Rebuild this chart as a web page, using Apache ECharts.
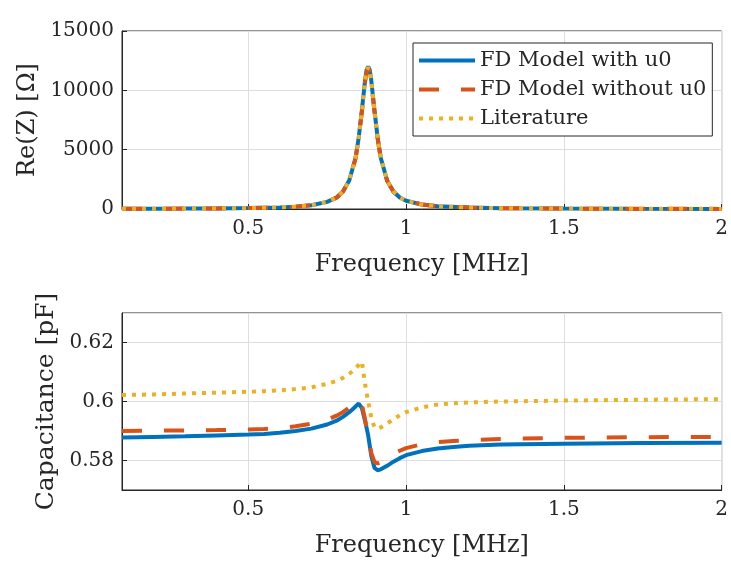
<!DOCTYPE html>
<html>
<head>
<meta charset="utf-8">
<script src="https://cdn.jsdelivr.net/npm/echarts@6/dist/echarts.min.js"></script>
<style>
  html, body { margin: 0; padding: 0; background: #fff; }
  #main { width: 731px; height: 561px; }
</style>
</head>
<body>
<div id="main"></div>
<script>
// top panel: Re(Z) in ohm vs frequency in MHz
var freqTop = [0.1, 0.2, 0.3, 0.4, 0.5, 0.6, 0.65, 0.7, 0.75, 0.78, 0.8, 0.82, 0.84, 0.85, 0.86, 0.87, 0.875, 0.88, 0.885, 0.89, 0.9, 0.91, 0.92, 0.94, 0.96, 0.98, 1.0, 1.05, 1.1, 1.2, 1.3, 1.5, 1.7, 2.0];
var reWith    = [20, 25, 35, 50, 75, 135, 200, 320, 600, 970, 1480, 2400, 4300, 6000, 8300, 10800, 11700, 12000, 11700, 10800, 8300, 6000, 4300, 2400, 1480, 970, 700, 380, 240, 120, 70, 35, 20, 10];
var reWithout = [20, 25, 35, 50, 75, 135, 200, 320, 600, 960, 1460, 2380, 4250, 5950, 8200, 10700, 11550, 11850, 11550, 10700, 8200, 5950, 4250, 2380, 1460, 960, 690, 375, 235, 118, 68, 34, 20, 10];
var reLit     = [20, 25, 35, 50, 75, 135, 200, 320, 600, 965, 1470, 2390, 4280, 5980, 8250, 10750, 11650, 11950, 11650, 10750, 8250, 5980, 4280, 2390, 1470, 965, 695, 378, 238, 119, 69, 35, 20, 10];

// bottom panel: capacitance in pF vs frequency in MHz
var freqBot = [0.1, 0.2, 0.3, 0.4, 0.5, 0.55, 0.6, 0.65, 0.7, 0.75, 0.78, 0.8, 0.82, 0.83, 0.84, 0.85, 0.86, 0.87, 0.88, 0.89, 0.9, 0.91, 0.92, 0.94, 0.96, 0.98, 1.0, 1.05, 1.1, 1.15, 1.2, 1.3, 1.5, 1.75, 2.0];
var capWith    = [0.5878, 0.5880, 0.5882, 0.5885, 0.5888, 0.5890, 0.5894, 0.5900, 0.5908, 0.5922, 0.5935, 0.5948, 0.5964, 0.5973, 0.5983, 0.5993, 0.5978, 0.5935, 0.5885, 0.5815, 0.5775, 0.5767, 0.5770, 0.5782, 0.5796, 0.5808, 0.5818, 0.5832, 0.5841, 0.5846, 0.5850, 0.5854, 0.5857, 0.5859, 0.5860];
var capWithout = [0.5900, 0.5901, 0.5902, 0.5903, 0.5905, 0.5907, 0.5910, 0.5916, 0.5925, 0.5938, 0.5952, 0.5964, 0.5980, 0.5988, 0.5997, 0.6007, 0.5990, 0.5940, 0.5880, 0.5825, 0.5795, 0.5790, 0.5795, 0.5808, 0.5822, 0.5833, 0.5842, 0.5855, 0.5862, 0.5866, 0.5869, 0.5873, 0.5877, 0.5879, 0.5880];
var capLit     = [0.6022, 0.6024, 0.6027, 0.6030, 0.6033, 0.6035, 0.6038, 0.6042, 0.6048, 0.6060, 0.6070, 0.6080, 0.6094, 0.6102, 0.6112, 0.6124, 0.6135, 0.6060, 0.6000, 0.5945, 0.5912, 0.5908, 0.5912, 0.5925, 0.5940, 0.5953, 0.5964, 0.5980, 0.5990, 0.5994, 0.5997, 0.6000, 0.6003, 0.6006, 0.6008];

var seriesNames = ['FD Model with u0', 'FD Model without u0', 'Literature'];
var colors = ['#0072BD', '#D95319', '#EDB120'];

function pairs(xs, ys) {
  var out = [];
  for (var i = 0; i < xs.length; i++) out.push([xs[i], ys[i]]);
  return out;
}

var font = 'DejaVu Serif';
var ink = '#262626';
var gridColor = '#dedede';

function xAxisFor(gridIndex) {
  return {
    type: 'value', gridIndex: gridIndex, min: 0.1, max: 2, splitNumber: 4,
    name: 'Frequency [MHz]', nameLocation: 'middle', nameGap: 44,
    nameTextStyle: { fontFamily: font, fontSize: 24, color: ink },
    axisLine: { show: true, lineStyle: { color: ink } },
    axisTick: { inside: true, length: 5, lineStyle: { color: ink } },
    axisLabel: { fontFamily: font, fontSize: 20, color: ink, margin: 10, showMinLabel: false },
    splitLine: { show: true, lineStyle: { color: gridColor } }
  };
}

function lineSeries(i, grid, xs, ys, dash) {
  var ls = { width: 4, color: colors[i] };
  if (dash) ls.type = dash;
  return {
    name: seriesNames[i], type: 'line', xAxisIndex: grid, yAxisIndex: grid,
    showSymbol: false, symbol: 'none',
    data: pairs(xs, ys), lineStyle: ls
  };
}

var option = {
  backgroundColor: '#fff',
  animation: false,
  color: colors,
  grid: [
    { left: 122, top: 31, width: 605, height: 178, show: true, borderColor: ink, borderWidth: 1 },
    { left: 122, top: 313, width: 605, height: 177, show: true, borderColor: ink, borderWidth: 1 }
  ],
  legend: {
    data: seriesNames,
    orient: 'vertical',
    left: 413, top: 43,
    backgroundColor: '#fff',
    borderColor: ink, borderWidth: 1, borderRadius: 0,
    padding: [7, 6, 7, 4],
    itemWidth: 56, itemHeight: 20, itemGap: 8,
    itemStyle: { color: 'rgba(0,0,0,0)', borderWidth: 0 },
    lineStyle: { width: 4 },
    textStyle: { fontFamily: font, fontSize: 21, color: ink }
  },
  xAxis: [xAxisFor(0), xAxisFor(1)],
  yAxis: [
    {
      type: 'value', gridIndex: 0, min: 0, max: 15000, interval: 5000,
      name: 'Re(Z) [Ω]', nameLocation: 'middle', nameGap: 72,
      nameTextStyle: { fontFamily: font, fontSize: 24, color: ink },
      axisLine: { show: true, lineStyle: { color: ink } },
      axisTick: { show: true, inside: true, length: 5, lineStyle: { color: ink } },
      axisLabel: { fontFamily: font, fontSize: 20, color: ink, margin: 8,
        formatter: function (v) { return String(v); } },
      splitLine: { show: true, lineStyle: { color: gridColor } }
    },
    {
      type: 'value', gridIndex: 1, min: 0.57, max: 0.63, splitNumber: 3,
      name: 'Capacitance [pF]', nameLocation: 'middle', nameGap: 56,
      nameTextStyle: { fontFamily: font, fontSize: 25, color: ink },
      axisLine: { show: true, lineStyle: { color: ink } },
      axisTick: { show: true, inside: true, length: 5, lineStyle: { color: ink } },
      axisLabel: { fontFamily: font, fontSize: 20, color: ink, margin: 8, showMinLabel: false, showMaxLabel: false },
      splitLine: { show: true, lineStyle: { color: gridColor } }
    }
  ],
  series: [
    lineSeries(0, 0, freqTop, reWith),
    lineSeries(1, 0, freqTop, reWithout, [20, 22]),
    lineSeries(2, 0, freqTop, reLit, [4, 6]),
    lineSeries(0, 1, freqBot, capWith),
    lineSeries(1, 1, freqBot, capWithout, [20, 22]),
    lineSeries(2, 1, freqBot, capLit, [4, 6])
  ]
};

var chart = echarts.init(document.getElementById('main'));
chart.setOption(option);
</script>
</body>
</html>
